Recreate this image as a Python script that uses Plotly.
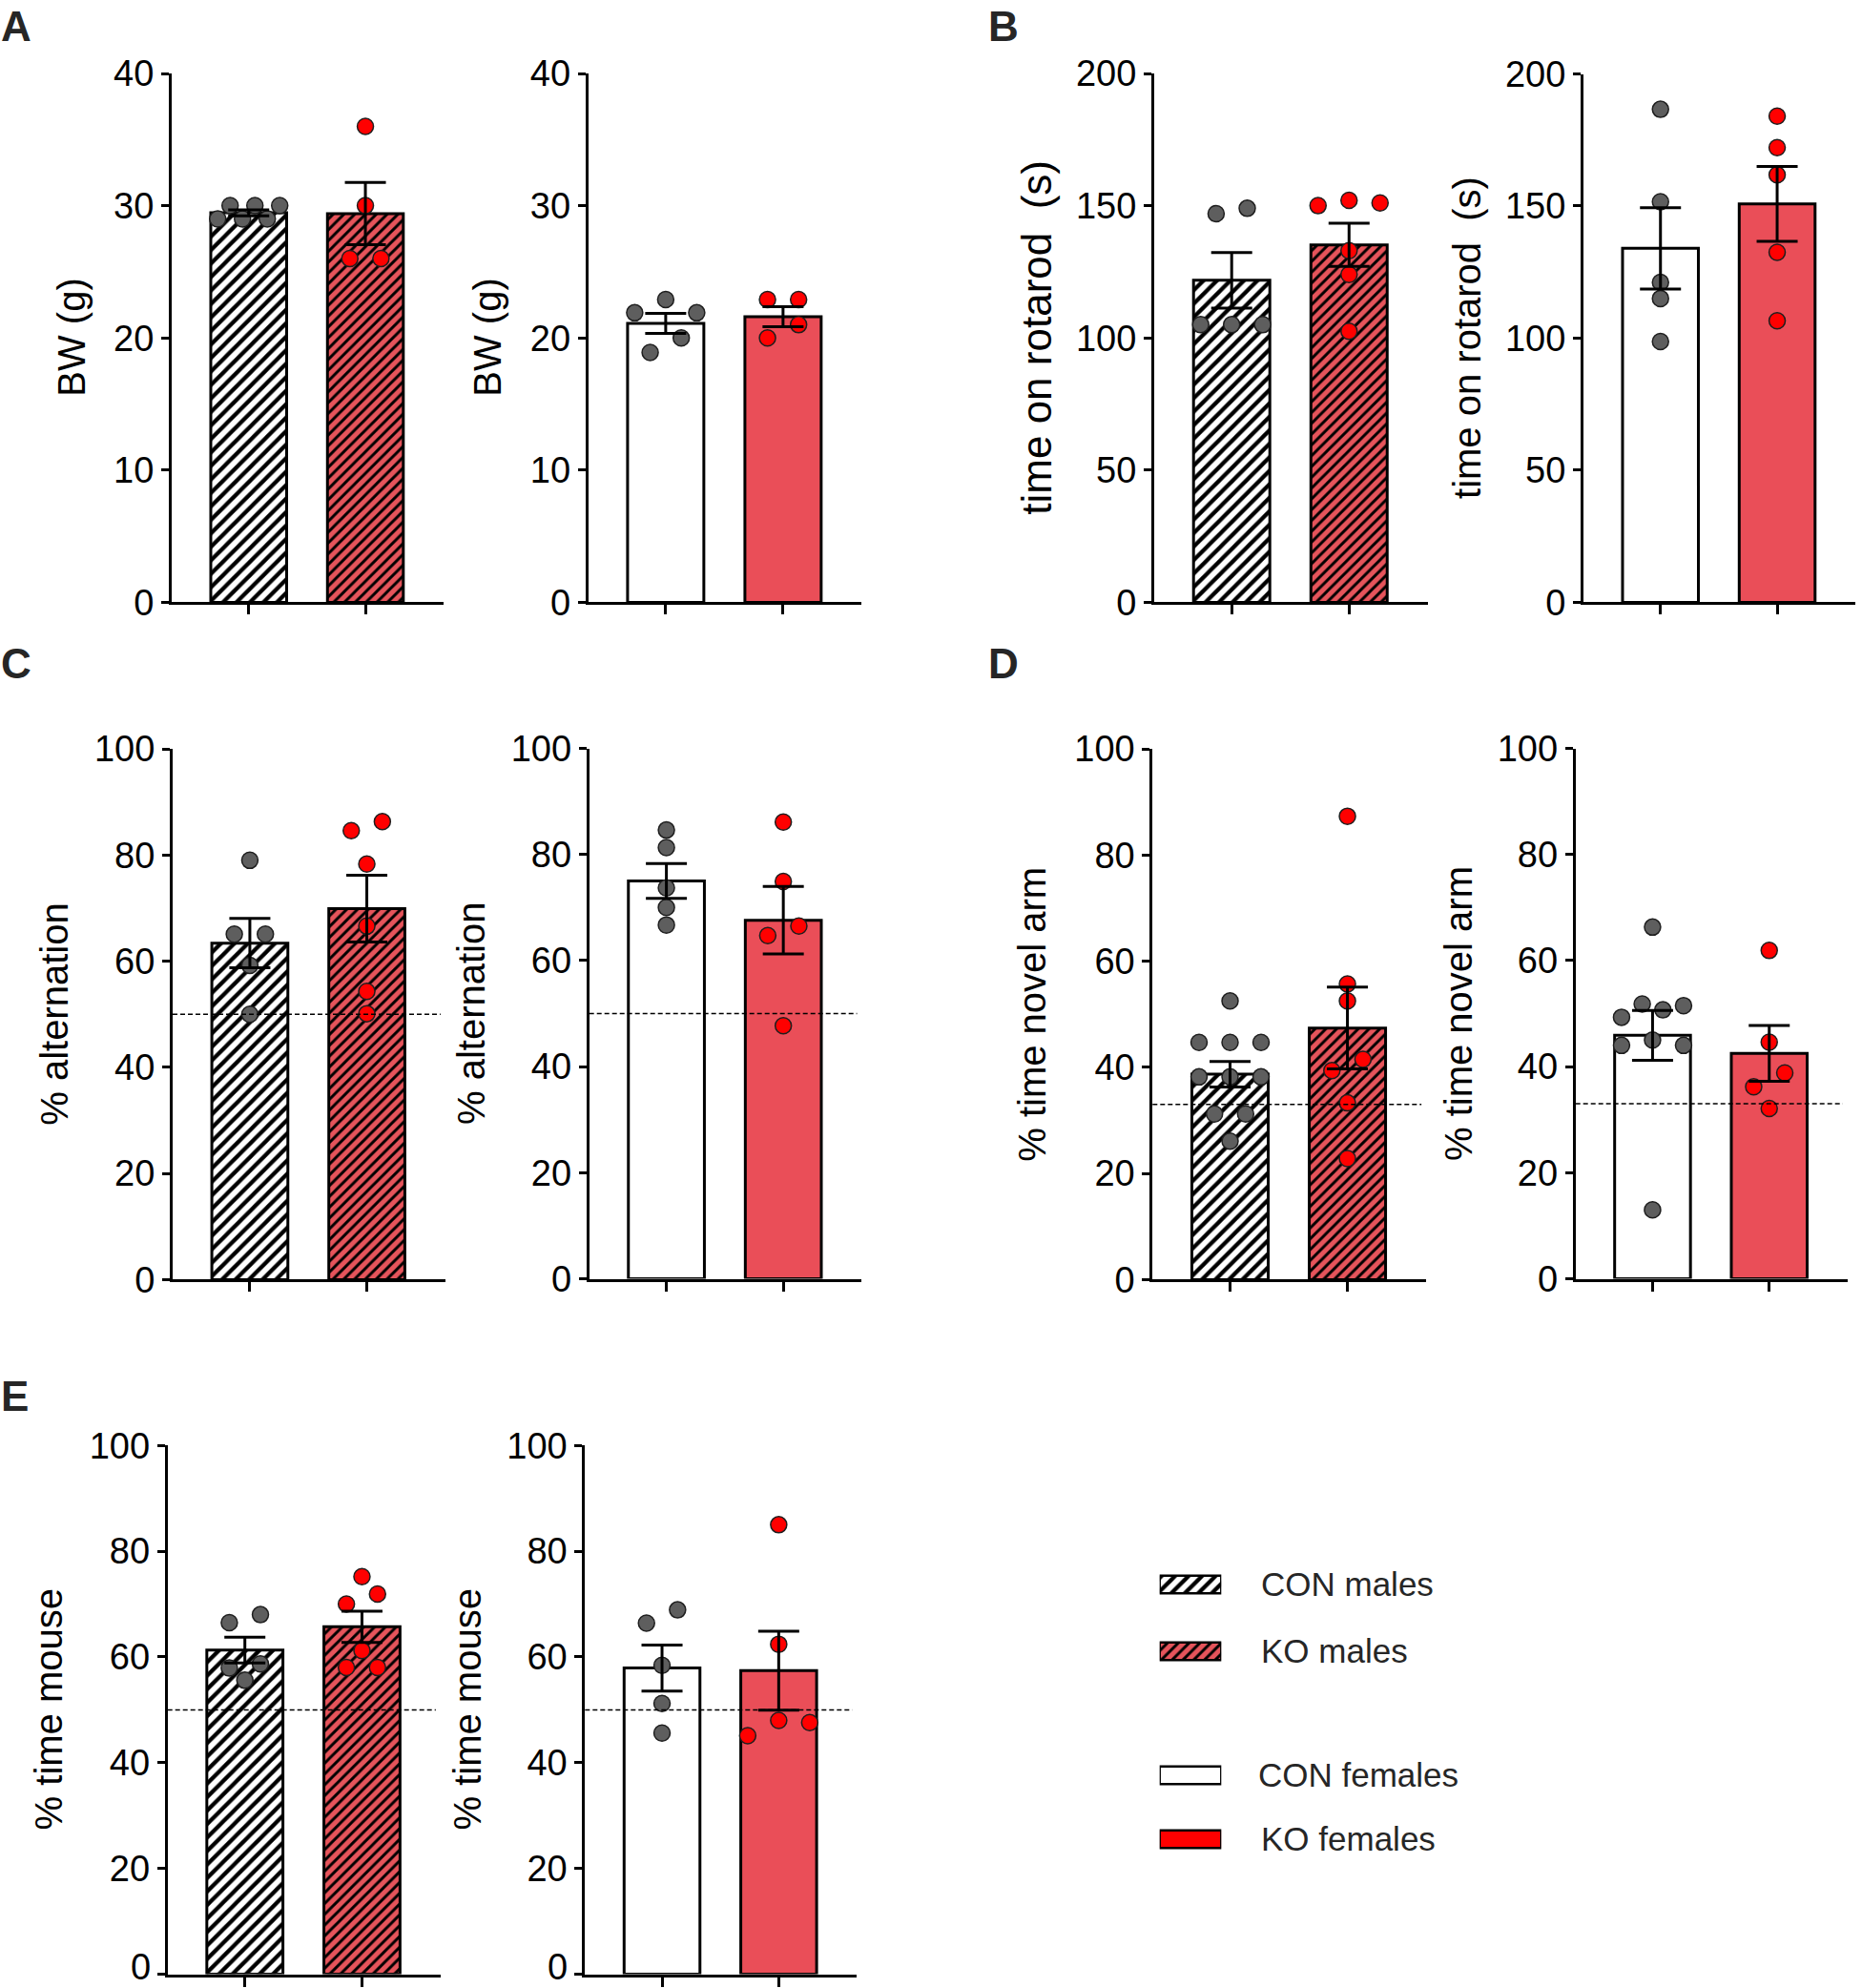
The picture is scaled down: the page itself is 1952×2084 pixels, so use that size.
import plotly.graph_objects as go

W, H = 1952, 2084

# ---------------- data ----------------
groups = ["CON", "KO"]

# A: body weight (g)
A_m_con = [29.0, 30.0, 29.0, 30.0, 29.0, 30.0]
A_m_ko = [36.0, 30.0, 26.0, 26.0]
A_m_mean = [29.46, 29.4]
A_m_sem = [0.22, 2.35]
A_f_con = [22.9, 21.9, 21.9, 20.0, 18.9]
A_f_ko = [22.9, 22.9, 21.0, 20.0]
A_f_mean = [21.1, 21.6]
A_f_sem = [0.76, 0.76]

# B: time on rotarod (s)
B_m_con = [149.0, 147.0, 105.0, 105.0, 105.0]
B_m_ko = [152.0, 151.0, 150.0, 133.0, 124.0, 102.5]
B_m_mean = [121.8, 135.2]
B_m_sem = [10.5, 8.2]
B_f_con = [186.6, 151.6, 121.1, 115.0, 98.7]
B_f_ko = [184.0, 172.1, 161.8, 132.5, 106.6]
B_f_mean = [134.0, 150.8]
B_f_sem = [15.4, 14.2]

# C: % alternation
C_m_con = [79.0, 65.1, 65.1, 59.2, 50.0]
C_m_ko = [86.3, 84.6, 78.3, 66.6, 54.3, 50.1]
C_m_mean = [63.4, 69.9]
C_m_sem = [4.65, 6.3]
C_f_con = [84.6, 81.3, 73.7, 70.0, 66.7]
C_f_ko = [86.1, 74.9, 66.5, 64.7, 47.7]
C_f_mean = [75.0, 67.6]
C_f_sem = [3.3, 6.35]

# D: % time novel arm
D_m_con = [52.5, 44.7, 44.7, 44.7, 38.2, 38.2, 38.2, 31.2, 31.2, 26.1]
D_m_ko = [87.3, 55.7, 52.5, 41.5, 39.4, 33.3, 22.8]
D_m_mean = [38.7, 47.4]
D_m_sem = [2.4, 7.7]
D_f_con = [66.3, 51.8, 51.5, 50.7, 49.3, 45.0, 44.0, 44.0, 13.0]
D_f_ko = [61.9, 44.6, 38.8, 36.2, 32.1]
D_f_mean = [45.9, 42.5]
D_f_sem = [4.7, 5.25]

# E: % time mouse
E_m_con = [68.0, 66.5, 58.7, 57.9, 55.6]
E_m_ko = [75.2, 71.9, 70.0, 61.2, 58.0, 58.0]
E_m_mean = [61.3, 65.7]
E_m_sem = [2.45, 2.95]
E_f_con = [68.9, 66.4, 58.4, 51.2, 45.6]
E_f_ko = [85.0, 62.4, 48.0, 47.6, 45.1]
E_f_mean = [57.9, 57.4]
E_f_sem = [4.35, 7.45]

A_ticks = [0, 10, 20, 30, 40]
B_ticks = [0, 50, 100, 150, 200]
P_ticks = [0, 20, 40, 60, 80, 100]

A_title = "BW (g)"
B_title = "time on rotarod\u00a0\u00a0(s)"
C_title = "% alternation"
D_title = "% time novel arm"
E_title = "% time mouse"

C_chance = 50
D_chance = 33
E_chance = 50

legend_labels = ["CON males", "KO males", "CON females", "KO females"]
panel_letters = ["A", "B", "C", "D", "E"]

# ---------------- styles ----------------
FONT = "Liberation Sans, Arial, Helvetica, sans-serif"
TICK_SIZE = 38
RED_BAR = "#EA4E58"
RED_HATCH_BG = "#E6545B"
GRAY_DOT = "#5E5E5E"
RED_DOT = "#FF0000"
DOT_LINE = "#1E1E1E"
TXT_DARK = "#262626"
BAR_W = 0.65
XR = [-0.66, 1.67]

# layout boxes in pixels: (x_left, x_right, y_top, y_bottom)
PANELS = [
    dict(con=A_m_con, ko=A_m_ko, mean=A_m_mean, sem=A_m_sem, ymax=40, ticks=A_ticks, title=A_title, tsize=40,
         chance=None, male=True, box=(180, 465, 77, 631.4), tx=75.5),
    dict(con=A_f_con, ko=A_f_ko, mean=A_f_mean, sem=A_f_sem, ymax=40, ticks=A_ticks, title=A_title, tsize=40,
         chance=None, male=False, box=(616.7, 903.3, 77, 631.4), tx=511.5),
    dict(con=B_m_con, ko=B_m_ko, mean=B_m_mean, sem=B_m_sem, ymax=200, ticks=B_ticks, title=B_title, tsize=44,
         chance=None, male=True, box=(1210, 1496.7, 77, 631.4), tx=1086.5),
    dict(con=B_f_con, ko=B_f_ko, mean=B_f_mean, sem=B_f_sem, ymax=200, ticks=B_ticks, title=B_title, tsize=40,
         chance=None, male=False, box=(1660, 1945, 77.5, 631.4), tx=1538.5),
    dict(con=C_m_con, ko=C_m_ko, mean=C_m_mean, sem=C_m_sem, ymax=100, ticks=P_ticks, title=C_title, tsize=40,
         chance=C_chance, male=True, box=(181, 466.7, 785, 1341.4), tx=57.6),
    dict(con=C_f_con, ko=C_f_ko, mean=C_f_mean, sem=C_f_sem, ymax=100, ticks=P_ticks, title=C_title, tsize=40,
         chance=C_chance, male=False, box=(617.7, 903.3, 784.5, 1340.5), tx=493.5),
    dict(con=D_m_con, ko=D_m_ko, mean=D_m_mean, sem=D_m_sem, ymax=100, ticks=P_ticks, title=D_title, tsize=40,
         chance=D_chance, male=True, box=(1208.3, 1495, 785, 1341.4), tx=1082.6),
    dict(con=D_f_con, ko=D_f_ko, mean=D_f_mean, sem=D_f_sem, ymax=100, ticks=P_ticks, title=D_title, tsize=40,
         chance=D_chance, male=False, box=(1651.7, 1936.7, 784.5, 1340.5), tx=1528.5),
    dict(con=E_m_con, ko=E_m_ko, mean=E_m_mean, sem=E_m_sem, ymax=100, ticks=P_ticks, title=E_title, tsize=40,
         chance=E_chance, male=True, box=(175.7, 461.7, 1515.2, 2069.6), tx=51.0),
    dict(con=E_f_con, ko=E_f_ko, mean=E_f_mean, sem=E_f_sem, ymax=100, ticks=P_ticks, title=E_title, tsize=40,
         chance=E_chance, male=False, box=(613.3, 898.3, 1515.2, 2069.6), tx=490.1),
]

LETTER_POS = [(0, 27.4), (1035, 27.4), (0, 695.5), (1035, 695.5), (0, 1463.6)]


def swarm_offsets(vals, px_y, px_x, row_gap=16.6, slot=16.3, max_half=32.5):
    """GraphPad-like row swarm: points closer than row_gap px share a row,
    spread symmetrically around the category centre."""
    order = sorted(range(len(vals)), key=lambda i: -vals[i])
    rows = []
    for i in order:
        if rows and (vals[rows[-1][0]] - vals[i]) * px_y < row_gap:
            rows[-1].append(i)
        else:
            rows.append([i])
    offs = [0.0] * len(vals)
    for row in rows:
        n = len(row)
        if n == 1:
            continue
        sp = min(2 * slot, 2 * max_half / (n - 1))
        start_even = n - 1 if (n - 1) % 2 == 0 else n - 2
        pos_order = list(range(1, n, 2)) + list(range(start_even, -1, -2))
        for rank, i in enumerate(row):
            k = pos_order[rank]
            offs[i] = (k - (n - 1) / 2) * sp / px_x
    return offs


def fx(x):
    return x / W


def fy(y):
    return 1 - y / H


fig = go.Figure()
layout_axes = {}
shapes = []
annotations = []

for k, p in enumerate(PANELS, start=1):
    xa = "x" if k == 1 else f"x{k}"
    ya = "y" if k == 1 else f"y{k}"
    xl, xr, yt, yb = p["box"]
    px_y = (yb - yt) / p["ymax"]
    px_x = (xr - xl) / (XR[1] - XR[0])

    # bars
    for gi, gname in enumerate(groups):
        if p["male"]:
            if gi == 0:
                marker = dict(color="white",
                              pattern=dict(shape="/", bgcolor="white", fgcolor="black",
                                           size=10, solidity=0.42, fillmode="replace"),
                              line=dict(color="black", width=3))
            else:
                marker = dict(color=RED_HATCH_BG,
                              pattern=dict(shape="/", bgcolor=RED_HATCH_BG, fgcolor="black",
                                           size=8, solidity=0.36, fillmode="replace"),
                              line=dict(color="black", width=3))
        else:
            marker = dict(color="white" if gi == 0 else RED_BAR, line=dict(color="black", width=3))
        fig.add_trace(go.Bar(x=[gi], y=[p["mean"][gi]], width=BAR_W, marker=marker,
                             xaxis=xa, yaxis=ya, hoverinfo="skip"))

    # individual points
    for gi, vals in enumerate([p["con"], p["ko"]]):
        offs = swarm_offsets(vals, px_y, px_x)
        fig.add_trace(go.Scatter(
            x=[gi + o for o in offs], y=vals, mode="markers",
            marker=dict(size=17, color=GRAY_DOT if gi == 0 else RED_DOT,
                        line=dict(color=DOT_LINE, width=1.5)),
            xaxis=xa, yaxis=ya, hoverinfo="skip", cliponaxis=False))

    # mean +/- SEM
    fig.add_trace(go.Scatter(
        x=[0, 1], y=p["mean"], mode="markers",
        marker=dict(size=2, color="rgba(0,0,0,0)"),
        error_y=dict(type="data", array=p["sem"], symmetric=True, thickness=3,
                     width=21.5, color="black"),
        xaxis=xa, yaxis=ya, hoverinfo="skip"))

    # chance line
    if p["chance"] is not None:
        shapes.append(dict(type="line", xref=f"{xa} domain", yref=ya, x0=0, x1=0.983,
                           y0=p["chance"], y1=p["chance"], layer="above",
                           line=dict(color="black", width=1.5, dash="5px,3px")))

    # tick labels; a label that would fall off the page bottom is drawn as an annotation
    ticktext = [str(t) for t in p["ticks"]]
    if yb + 0.55 * TICK_SIZE > H:
        ticktext[0] = ""
        annotations.append(dict(text=str(p["ticks"][0]), x=fx(xl - 17), y=0,
                                xref="paper", yref="paper", xanchor="right", yanchor="bottom",
                                showarrow=False, borderpad=0,
                                font=dict(family=FONT, size=TICK_SIZE, color="black")))

    axis_common = dict(showline=True, linewidth=3, linecolor="black", ticks="outside",
                       tickwidth=3, tickcolor="black", showgrid=False, zeroline=False,
                       fixedrange=True, automargin=False)
    layout_axes["xaxis" if k == 1 else f"xaxis{k}"] = dict(
        domain=[fx(xl), fx(xr)], range=XR, tickvals=[0, 1], ticklen=10,
        showticklabels=False, anchor=ya, **axis_common)
    layout_axes["yaxis" if k == 1 else f"yaxis{k}"] = dict(
        domain=[fy(yb), fy(yt)], range=[0, p["ymax"]], tickvals=p["ticks"],
        ticktext=ticktext, ticklen=8, anchor=xa,
        ticklabeloverflow="allow",
        tickfont=dict(family=FONT, size=TICK_SIZE, color="black"), **axis_common)

    # y title
    annotations.append(dict(text=p["title"], x=fx(p["tx"]), y=fy((yt + yb) / 2),
                            xref="paper", yref="paper", xanchor="center", yanchor="middle",
                            textangle=-90, showarrow=False,
                            font=dict(family=FONT, size=p["tsize"], color="black")))

# panel letters
for letter, (lx, ly) in zip(panel_letters, LETTER_POS):
    annotations.append(dict(text=f"<b>{letter}</b>", x=fx(lx), y=fy(ly), xref="paper",
                            yref="paper", xanchor="left", yanchor="middle", showarrow=False,
                            borderpad=0, font=dict(family=FONT, size=44, color=TXT_DARK)))

# ---------------- legend (swatches drawn as bars on a helper axis) ----------------
LEG_X = (1215.7, 1280.3)
LEG_BOX_Y = (1640, 1950)
LEG_ROWS = [1661, 1731, 1861, 1928]
LEG_TEXT_X = [1320, 1320, 1317, 1320]
leg_markers = [
    dict(color="white", pattern=dict(shape="/", bgcolor="white", fgcolor="black", size=10,
                                     solidity=0.42, fillmode="replace"),
         line=dict(color="black", width=2.5)),
    dict(color=RED_HATCH_BG, pattern=dict(shape="/", bgcolor=RED_HATCH_BG, fgcolor="black",
                                          size=8, solidity=0.36, fillmode="replace"),
         line=dict(color="black", width=2.5)),
    dict(color="white", line=dict(color="black", width=2.5)),
    dict(color="#FF0000", line=dict(color="black", width=2.5)),
]
for i, lab in enumerate(legend_labels):
    fig.add_trace(go.Bar(x=[1], y=[LEG_ROWS[i]], base=0, orientation="h", width=18.5,
                         marker=leg_markers[i], xaxis="x11", yaxis="y11", hoverinfo="skip"))
    annotations.append(dict(text=lab, x=fx(LEG_TEXT_X[i]), y=fy(LEG_ROWS[i] - 1),
                            xref="paper", yref="paper", xanchor="left", yanchor="middle",
                            showarrow=False, font=dict(family=FONT, size=35, color=TXT_DARK)))
layout_axes["xaxis11"] = dict(domain=[fx(LEG_X[0]), fx(LEG_X[1])], range=[0, 1],
                              visible=False, fixedrange=True, anchor="y11", automargin=False)
layout_axes["yaxis11"] = dict(domain=[fy(LEG_BOX_Y[1]), fy(LEG_BOX_Y[0])],
                              range=[LEG_BOX_Y[1], LEG_BOX_Y[0]], visible=False,
                              fixedrange=True, anchor="x11", automargin=False)

fig.update_layout(
    template="none",
    width=W, height=H, autosize=False,
    margin=dict(l=0, r=0, t=0, b=0, pad=0, autoexpand=False),
    paper_bgcolor="white", plot_bgcolor="rgba(0,0,0,0)",
    showlegend=False, barmode="overlay",
    font=dict(family=FONT, color="black"),
    shapes=shapes, annotations=annotations,
    **layout_axes,
)

fig.write_html("out.html", include_plotlyjs=True, full_html=True,
               config=dict(displayModeBar=False, staticPlot=True),
               post_script="document.body.style.margin='0';document.body.style.overflow='hidden';")
